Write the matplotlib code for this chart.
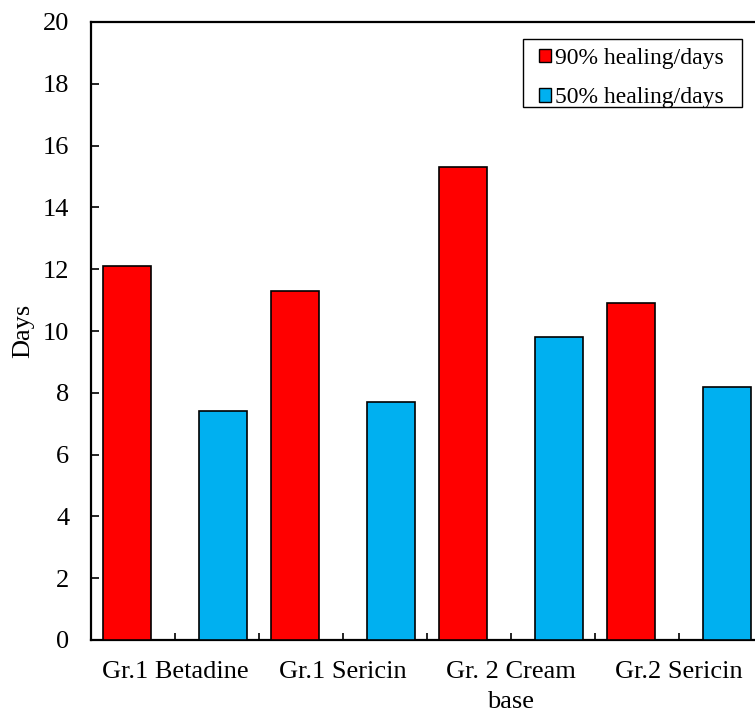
import matplotlib
matplotlib.use("Agg")
import matplotlib.pyplot as plt
from matplotlib.patches import Rectangle
import numpy as np

categories = ["Gr.1 Betadine", "Gr.1 Sericin", "Gr. 2 Cream\nbase", "Gr.2 Sericin"]
healing_90 = [12.1, 11.3, 15.3, 10.9]
healing_50 = [7.4, 7.7, 9.8, 8.2]
series_labels = ["90% healing/days", "50% healing/days"]
y_ticks = [0, 2, 4, 6, 8, 10, 12, 14, 16, 18, 20]

plt.rcParams["font.family"] = ["Liberation Serif", "DejaVu Serif"]

W, H = 755, 712
fig = plt.figure(figsize=(W / 100, H / 100), dpi=100)
left, right, bottom, top = 91, 763, 640, 22
ax = fig.add_axes([left / W, (H - bottom) / H, (right - left) / W, (bottom - top) / H])

x = np.arange(len(categories))
bw = 0.2857
ax.bar(x - bw, healing_90, width=bw, color="#FF0000", edgecolor="black",
       linewidth=1.2, label=series_labels[0], zorder=3)
ax.bar(x + bw, healing_50, width=bw, color="#00B0F0", edgecolor="black",
       linewidth=1.2, label=series_labels[1], zorder=3)

ax.set_xlim(-0.5, len(categories) - 0.5)
ax.set_ylim(0, 20)
ax.set_yticks(y_ticks)
ax.set_xticks(x)
ax.set_xticklabels(categories, linespacing=1.5)
ax.set_xticks(np.arange(-0.5, len(categories), 0.5), minor=True)

for s in ax.spines.values():
    s.set_linewidth(1.6)

ax.tick_params(axis="y", direction="in", length=6, width=1.2, labelsize=19, pad=15.5)
ax.tick_params(axis="x", which="major", direction="in", length=5, width=1.2, labelsize=19, pad=15)
ax.tick_params(axis="x", which="minor", direction="in", length=5, width=1.2)

ax.set_ylabel("Days", fontsize=19, labelpad=6)


def px_to_axes(px, py):
    return (px - left) / (right - left), (bottom - py) / (bottom - top)


# legend entries without a frame; the frame is drawn separately for wider side padding
leg = ax.legend(loc="upper left", bbox_to_anchor=px_to_axes(539, 48),
                frameon=False, fontsize=17,
                handlelength=0.5, handleheight=0.5, handletextpad=0.18,
                borderpad=0, labelspacing=0.78, borderaxespad=0)
for h in leg.legend_handles:
    h.set_linewidth(1.0)

x0, y0 = px_to_axes(523, 107)
x1, y1 = px_to_axes(742, 39)
ax.add_patch(Rectangle((x0, y0), x1 - x0, y1 - y0, transform=ax.transAxes,
                       facecolor="white", edgecolor="black", linewidth=1.0, zorder=4))
leg.set_zorder(5)

fig.savefig("out.png", dpi=100)
